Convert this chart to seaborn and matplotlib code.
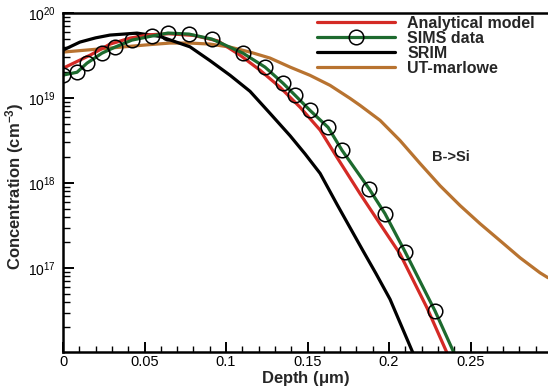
import numpy as np
import pandas as pd
import matplotlib
matplotlib.use("Agg")
import matplotlib.pyplot as plt
from matplotlib.ticker import MultipleLocator, FuncFormatter, LogLocator
import seaborn as sns

# ---------------- data ----------------
sims_x = [0.0, 0.0086, 0.0147, 0.0239, 0.0319, 0.0423, 0.0546, 0.0644, 0.0773, 0.0914,
          0.1104, 0.1239, 0.1350, 0.1423, 0.1515, 0.1626, 0.1712, 0.1877, 0.1975, 0.2098, 0.2282]
sims_y = [1.86e19, 2.01e19, 2.57e19, 3.37e19, 3.97e19, 4.80e19, 5.36e19, 5.81e19, 5.65e19, 4.93e19,
          3.37e19, 2.31e19, 1.49e19, 1.08e19, 7.16e18, 4.52e18, 2.42e18, 8.6e17, 4.37e17, 1.56e17, 3.13e16]
sims_end_x = [0.2399]
sims_end_y = [1.0e16]

model_x = [0.0, 0.0166, 0.0288, 0.0411, 0.0534, 0.065, 0.080, 0.095, 0.1086, 0.1209, 0.1331,
           0.1454, 0.1577, 0.1681, 0.1822, 0.1945, 0.2067, 0.2233, 0.2356]
model_y = [2.24e19, 3.19e19, 4.30e19, 5.07e19, 5.55e19, 5.70e19, 5.45e19, 4.70e19, 3.19e19, 2.12e19, 1.34e19,
           7.8e18, 4.2e18, 2.0e18, 7.5e17, 3.3e17, 1.47e17, 3.4e16, 1.0e16]

srim_x = [0.0, 0.0104, 0.0200, 0.0288, 0.0454, 0.0595, 0.0779, 0.0902, 0.1025, 0.1147, 0.1270,
          0.1393, 0.1485, 0.1577, 0.1681, 0.1840, 0.1920, 0.2006, 0.2147]
srim_y = [3.66e19, 4.55e19, 5.10e19, 5.50e19, 5.80e19, 5.30e19, 4.00e19, 2.75e19, 1.85e19, 1.20e19, 6.6e18,
          3.6e18, 2.2e18, 1.3e18, 5.6e17, 1.6e17, 8.6e16, 4.3e16, 1.0e16]

marlowe_x = [0.0, 0.0288, 0.0534, 0.0656, 0.0779, 0.0902, 0.1025, 0.1147, 0.1270, 0.1393, 0.1515,
             0.1638, 0.1761, 0.1822, 0.1945, 0.2067, 0.2190, 0.2313, 0.2436, 0.2558, 0.2681,
             0.2804, 0.2926, 0.2975]
marlowe_y = [3.47e19, 3.87e19, 4.25e19, 4.43e19, 4.43e19, 4.31e19, 3.97e19, 3.47e19, 2.95e19, 2.31e19, 1.85e19,
             1.41e19, 9.9e18, 8.2e18, 5.46e18, 3.17e18, 1.70e18, 9.3e17, 5.43e17, 3.33e17, 2.10e17,
             1.32e17, 8.8e16, 7.7e16]

labels = ["Analytical model", "SIMS data", "SRIM", "UT-marlowe"]
x_ticks = [0, 0.05, 0.1, 0.15, 0.2, 0.25]

# ---------------- style ----------------
sns.set_theme(style="ticks")
plt.rcParams['font.family'] = ['Liberation Sans', 'DejaVu Sans']
plt.rcParams['mathtext.fontset'] = 'custom'
plt.rcParams['mathtext.rm'] = 'Liberation Sans'
plt.rcParams['mathtext.bf'] = 'Liberation Sans:bold'
plt.rcParams['mathtext.it'] = 'Liberation Sans:italic'

RED = "#d42a25"
GREEN = "#1d6a2e"
BLACK = "#000000"
BROWN = "#b87330"

fig = plt.figure(figsize=(5.48, 3.87), dpi=100)
ax = fig.add_axes([63 / 548, 35 / 387, 1 - 63 / 548, (352 - 13) / 387])

lw = 2.3
df_model = pd.DataFrame({"x": model_x, "y": model_y})
df_sims = pd.DataFrame({"x": sims_x + sims_end_x, "y": sims_y + sims_end_y})
df_srim = pd.DataFrame({"x": srim_x, "y": srim_y})
df_mar = pd.DataFrame({"x": marlowe_x, "y": marlowe_y})

sns.lineplot(data=df_mar, x="x", y="y", ax=ax, color=BROWN, lw=lw, label=labels[3],
             estimator=None, sort=False)
sns.lineplot(data=df_srim, x="x", y="y", ax=ax, color=BLACK, lw=lw, label=labels[2],
             estimator=None, sort=False)
sns.lineplot(data=df_model, x="x", y="y", ax=ax, color=RED, lw=lw, label=labels[0],
             estimator=None, sort=False)
sns.lineplot(data=df_sims, x="x", y="y", ax=ax, color=GREEN, lw=lw, label=labels[1],
             estimator=None, sort=False, marker="o", markersize=10.5, fillstyle="none",
             markeredgecolor="black", markeredgewidth=1.1,
             markevery=list(range(len(sims_x))))

ax.set_yscale("log")
ax.set_xlim(0, 0.2975)
ax.set_ylim(1.03e16, 1e20)

ax.xaxis.set_minor_locator(MultipleLocator(0.01))
ax.set_xticks(x_ticks)
ax.xaxis.set_major_formatter(FuncFormatter(lambda v, p: "%g" % round(v, 4)))
ax.yaxis.set_major_locator(LogLocator(base=10, numticks=10))
ax.yaxis.set_minor_locator(LogLocator(base=10, subs=np.arange(2, 10), numticks=20))

ax.tick_params(axis="both", which="both", direction="in", colors="black",
               top=False, right=False)
ax.tick_params(axis="x", which="major", length=7, width=1.4, labelsize=10.5, pad=2)
ax.tick_params(axis="x", which="minor", length=4, width=1.0)
ax.tick_params(axis="y", which="major", length=8, width=1.4, labelsize=10, pad=5)
ax.tick_params(axis="y", which="minor", length=5, width=1.0)

for s in ["left", "bottom", "top"]:
    ax.spines[s].set_linewidth(1.8)
    ax.spines[s].set_color("black")
ax.spines["right"].set_visible(False)

ax.set_xlabel(r"Depth ($\mathbf{\mu}$m)", fontsize=12, fontweight="bold")
ax.set_ylabel(r"Concentration (cm$^{\mathbf{-3}}$)", fontsize=12, fontweight="bold")
ax.xaxis.set_label_coords(0.5, -(379 - 352) / 339, transform=ax.transAxes)
ax.xaxis.label.set_va("center")
ax.yaxis.set_label_coords(-(63 - 15) / 485, 0.49, transform=ax.transAxes)
ax.yaxis.label.set_va("center")

fig.text(432 / 548, 1 - 157 / 387, "B->Si", fontsize=10.5, fontweight="bold", va="center", ha="left")

handles, labs = ax.get_legend_handles_labels()
order = [labs.index(l) for l in labels]
leg = ax.legend([handles[i] for i in order], [labs[i] for i in order],
                loc="upper left", bbox_to_anchor=(317 / 548, 1 - 16 / 387),
                bbox_transform=fig.transFigure, frameon=False, borderaxespad=0, borderpad=0,
                handlelength=4.9, handletextpad=0.75, labelspacing=0.0,
                prop={"size": 11.5, "weight": "bold"})

fig.savefig("out.png", dpi=100)
